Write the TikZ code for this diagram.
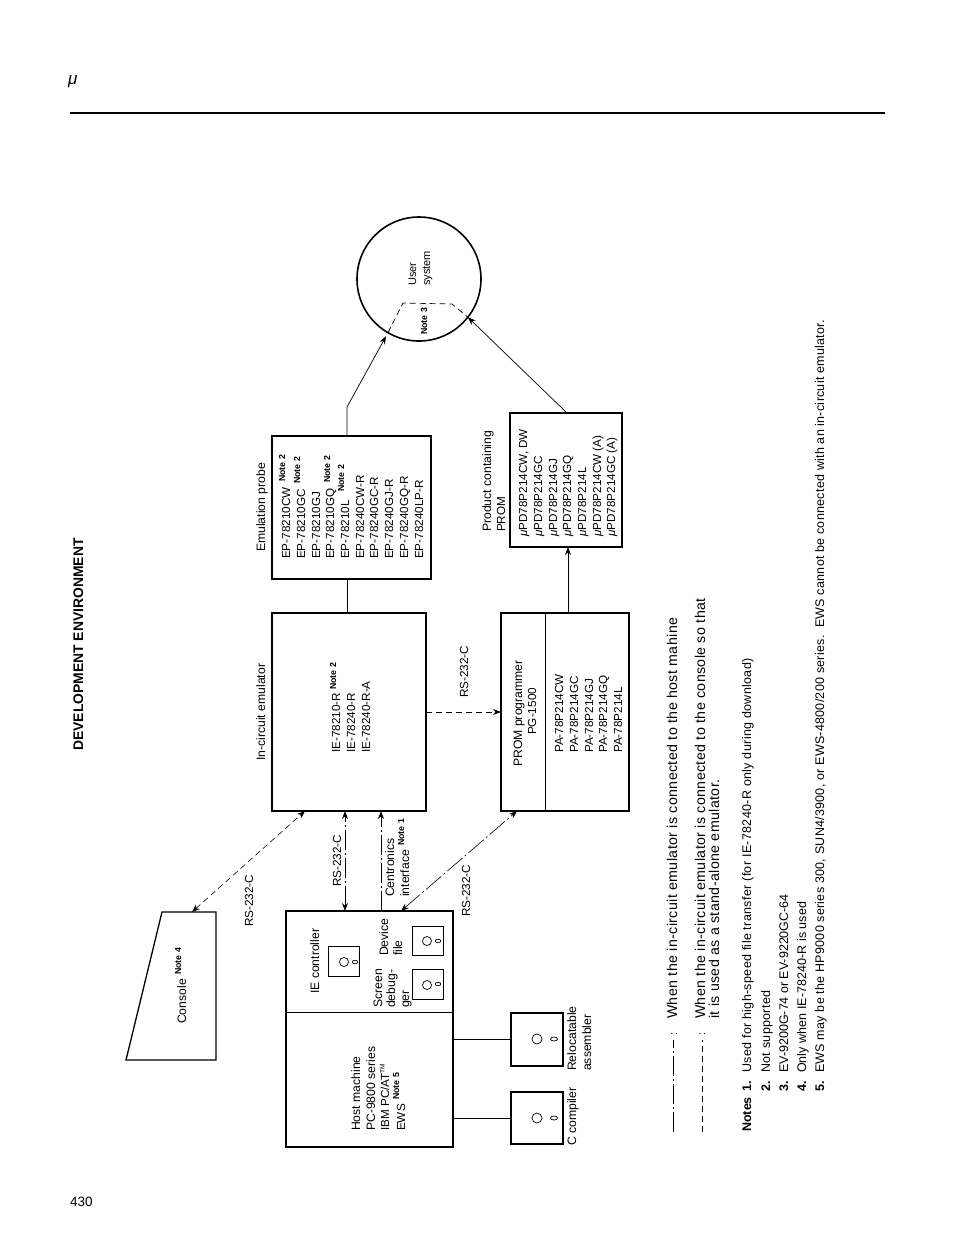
\documentclass[tikz,border=0pt]{standalone}
\usepackage{amsmath}
\usepackage{fontspec}
\setmainfont{Liberation Sans}
\usetikzlibrary{arrows.meta,shapes.geometric,positioning,calc}
\newcommand{\umu}{{\itshape μ}}

\begin{document}
\begin{tikzpicture}[x=1pt,y=-1pt,
boxed/.style={rectangle,draw,line width=1.5pt,inner sep=0pt,outer sep=0pt},
smallbox/.style={rectangle,draw,line width=1pt,inner sep=0pt,outer sep=0pt},
knob/.style={circle,draw,line width=0.7pt,inner sep=0pt,minimum size=9pt},
pin/.style={ellipse,draw,line width=0.7pt,inner sep=0pt,minimum width=5.5pt,minimum height=3.5pt},
lbl/.style={rotate=90,anchor=base west,inner sep=0pt,font=\fontsize{11.7}{14}\selectfont},
lblw/.style={rotate=90,anchor=base west,inner sep=0pt,font=\fontsize{12.2}{14}\selectfont},
note/.style={rotate=90,anchor=base west,inner sep=0pt,font=\fontsize{8.8}{10}\bfseries\selectfont},
txt/.style={rotate=90,anchor=base west,inner sep=0pt,font=\fontsize{14.2}{16}\selectfont\addfontfeature{LetterSpace=2.8}},
foot/.style={rotate=90,anchor=base west,inner sep=0pt,font=\fontsize{12.5}{14}\selectfont\addfontfeature{LetterSpace=2.8}},
footb/.style={rotate=90,anchor=base west,inner sep=0pt,font=\fontsize{12.5}{14}\bfseries\selectfont},
wire/.style={line width=0.7pt},
edge/.style={line width=0.8pt,>={Stealth[length=8pt,width=6pt]}},
dashline/.style={edge,dash pattern=on 6pt off 4pt},
chainline/.style={edge,dash pattern=on 20pt off 3pt on 2pt off 3pt}]
\useasboundingbox (0,0) rectangle (954,1235);

% page head
\node (mu) [anchor=base west,inner sep=0pt,font=\fontsize{17}{20}\selectfont] at (68,84) {\umu};
\coordinate (ruleL) at (70,113);
\coordinate (ruleR) at (885,113);
\draw [line width=1.8pt] (ruleL) -- (ruleR);
\node (title) [rotate=90,anchor=base west,inner sep=0pt,font=\fontsize{13.9}{16}\bfseries\selectfont] at (83,751) {DEVELOPMENT ENVIRONMENT};
\node (pageno) [anchor=base west,inner sep=0pt,font=\fontsize{13.5}{16}\selectfont] at (70,1206) {430};

% boxes
\node (ice) [boxed,minimum width=154pt,minimum height=198pt] at (349,712) {};
\node (probe) [boxed,minimum width=159pt,minimum height=143pt] at (351.5,507.5) {};
\node (prom) [boxed,minimum width=128pt,minimum height=198pt] at (565,712) {};
\node (product) [boxed,minimum width=112pt,minimum height=134pt] at (566,480) {};
\node (user) [circle,draw,line width=1.6pt,inner sep=0pt,outer sep=0pt,minimum size=124pt] at (419,279) {};
\node (host) [boxed,minimum width=167pt,minimum height=236pt] at (369.5,1029) {};
\node (iectl) [smallbox,minimum width=31pt,minimum height=30pt] at (343.5,961) {};
\node (devfile) [smallbox,minimum width=31pt,minimum height=29pt] at (427.5,940.5) {};
\node (screen) [smallbox,minimum width=31pt,minimum height=30pt] at (427.5,984) {};
\node (reloc) [boxed,minimum width=52pt,minimum height=53pt] at (537,1039.5) {};
\node (ccomp) [boxed,minimum width=52pt,minimum height=52pt] at (537,1118) {};

% console
\coordinate (conA) at (162,912);
\coordinate (conB) at (216,912);
\coordinate (conC) at (216,1060);
\coordinate (conD) at (126,1060);
\coordinate (conGate) at (192,912);
\draw [line width=1.3pt] (conA) -- (conB) -- (conC) -- (conD) -- cycle;

% disks
\node (iectlK) [knob] at (344,962) {};
\node (iectlP) [pin] at (355,962) {};
\node (devK) [knob] at (427,941) {};
\node (devP) [pin] at (438,941) {};
\node (scrK) [knob] at (427,985) {};
\node (scrP) [pin] at (438,984) {};
\node (relocK) [knob,minimum size=10pt] at (537,1039) {};
\node (relocP) [pin,minimum width=7pt,minimum height=4pt] at (554,1039) {};
\node (ccompK) [knob,minimum size=10pt] at (537,1118) {};
\node (ccompP) [pin,minimum width=7pt,minimum height=4pt] at (554,1118) {};

% inner dividers
\draw [wire] ([yshift=17pt]host.west) -- ([yshift=17pt]host.east);
\draw [wire] ([xshift=-20pt]prom.north) -- ([xshift=-20pt]prom.south);

% connectors
\coordinate (probeBend) at (347,407);
\coordinate (userA) at (403,303);
\coordinate (userB) at (452,304);
\draw [wire] ([xshift=-2pt]ice.north) -- ([xshift=-4.5pt]probe.south);
\draw [wire,->,>={Stealth[length=8pt,width=6pt]},shorten >=4pt] ([xshift=-4.5pt]probe.north) -- (probeBend) -- (user.240);
\draw [wire,dash pattern=on 6pt off 4pt] (user.240) -- (userA) -- (userB) -- (user.322);
\draw [wire,->,>={Stealth[length=8pt,width=6pt]}] ([xshift=1pt]product.north) -- (user.322);
\draw [edge,->] ([xshift=3pt]prom.north) -- ([xshift=2pt]product.south);
\draw [dashline,->] (ice.east) -- (prom.west);
\draw [dashline,<->,line width=0.6pt] (conGate) -- ([xshift=-44pt]ice.south);
\draw [chainline,<->] ([xshift=-24.5pt]host.north) -- ([xshift=-4pt]ice.south);
\draw [chainline,->] ([xshift=11.5pt]host.north) -- ([xshift=32pt]ice.south);
\draw [chainline,<->,line width=0.6pt] ([xshift=31.5pt]host.north) -- ([xshift=-48pt]prom.south);
\draw [wire] (reloc.west) -- (reloc.west -| host.east);
\draw [wire] (ccomp.west) -- (ccomp.west -| host.east);

% emulator and probe
\node (iceT) [lblw] at (265,761) {In-circuit emulator};
\node (iceA) [lbl] at (340,753) {IE-78210-R};
\node (iceB) [lbl] at (355,753) {IE-78240-R};
\node (iceC) [lbl] at (370,753) {IE-78240-R-A};
\node (iceN) [note] at (336,690) {Note 2};
\node (probeT) [lblw] at (265,552) {Emulation probe};
\node (epA) [lbl] at (290,559) {EP-78210CW};
\node (epB) [lbl] at (305,559) {EP-78210GC};
\node (epC) [lbl] at (320,559) {EP-78210GJ};
\node (epD) [lbl] at (334,559) {EP-78210GQ};
\node (epE) [lbl] at (349,559) {EP-78210L};
\node (epF) [lbl] at (364,559) {EP-78240CW-R};
\node (epG) [lbl] at (378,559) {EP-78240GC-R};
\node (epH) [lbl] at (393,559) {EP-78240GJ-R};
\node (epI) [lbl] at (408,559) {EP-78240GQ-R};
\node (epJ) [lbl] at (423,559) {EP-78240LP-R};
\node (epNa) [note] at (285,482) {Note 2};
\node (epNb) [note] at (300,484) {Note 2};
\node (epNc) [note] at (330,483) {Note 2};
\node (epNd) [note] at (344,492) {Note 2};

% programmer and product
\node (rsPr) [lbl] at (468,698) {RS-232-C};
\node (promA) [lblw] at (522,767) {PROM programmer};
\node (promB) [lbl] at (536,735) {PG-1500};
\node (paA) [lbl] at (563,753) {PA-78P214CW};
\node (paB) [lbl] at (578,753) {PA-78P214GC};
\node (paC) [lbl] at (593,753) {PA-78P214GJ};
\node (paD) [lbl] at (607,753) {PA-78P214GQ};
\node (paE) [lbl] at (622,753) {PA-78P214L};
\node (prodA) [lblw] at (491,532) {Product containing};
\node (prodB) [lbl] at (505,532) {PROM};
\node (upA) [lbl] at (527,537) {\umu PD78P214CW, DW};
\node (upB) [lbl] at (542,537) {\umu PD78P214GC};
\node (upC) [lbl] at (557,537) {\umu PD78P214GJ};
\node (upD) [lbl] at (571,537) {\umu PD78P214GQ};
\node (upE) [lbl] at (586,537) {\umu PD78P214L};
\node (upF) [lbl] at (601,537) {\umu PD78P214CW (A)};
\node (upG) [lbl] at (615,537) {\umu PD78P214GC (A)};

% user system
\node (userT) [lbl,font=\fontsize{11}{13}\selectfont] at (416,286) {User};
\node (userS) [lbl,font=\fontsize{11}{13}\selectfont] at (430,286) {system};
\node (userN) [note] at (427,335) {Note 3};

% host side
\node (conT) [lblw] at (186,1024) {Console};
\node (conN) [note] at (181,975) {Note 4};
\node (rsCon) [lbl] at (253,927) {RS-232-C};
\node (rsHost) [lbl] at (341,887) {RS-232-C};
\node (cenA) [lblw] at (394,897) {Centronics};
\node (cenB) [lblw] at (409,897) {interface};
\node (cenN) [note] at (404,846) {Note 1};
\node (rsPg) [lbl] at (470,917) {RS-232-C};
\node (ieT) [lblw] at (319,994) {IE controller};
\node (devA) [lblw] at (388,956) {Device};
\node (devB) [lblw] at (402,956) {file};
\node (scrA) [lblw] at (382,1008) {Screen};
\node (scrB) [lblw] at (395,1008) {debug-};
\node (scrC) [lblw] at (409,1008) {ger};
\node (hostA) [lblw] at (360,1131) {Host machine};
\node (hostB) [lblw] at (375,1131) {PC-9800 series};
\node (hostC) [lbl] at (389,1131) {IBM PC/AT\textsuperscript{\fontsize{6.5}{7}\selectfont TM}};
\node (hostD) [lbl] at (405,1131) {EWS};
\node (hostN) [note] at (399,1100) {Note 5};
\node (relocA) [lblw] at (576,1071) {Relocatable};
\node (relocB) [lblw] at (591,1071) {assembler};
\node (ccompT) [lblw] at (576,1146) {C compiler};

% legend
\coordinate (legA) at (673,1132);
\coordinate (legB) at (673,1040);
\coordinate (legC) at (702,1132);
\coordinate (legD) at (702,1040);
\draw [chainline] (legA) -- (legB);
\draw [dashline] (legC) -- (legD);
\node (legAc) [txt,font=\fontsize{11}{13}\selectfont] at (677,1036) {:};
\node (legCc) [txt,font=\fontsize{11}{13}\selectfont] at (705,1036) {:};
\node (legAt) [txt] at (677,1019) {When the in-circuit emulator is connected to the host mahine};
\node (legCt) [txt] at (705,1019) {When the in-circuit emulator is connected to the console so that};
\node (legCu) [txt] at (719,1019) {it is used as a stand-alone emulator.};

% notes
\node (notesH) [footb] at (751,1132) {Notes};
\node (noA) [footb] at (751,1092) {1.};
\node (noB) [footb] at (770,1092) {2.};
\node (noC) [footb] at (788,1092) {3.};
\node (noD) [footb] at (806,1092) {4.};
\node (noE) [footb] at (824,1092) {5.};
\node (ftA) [foot] at (751,1073) {Used for high-speed file transfer (for IE-78240-R only during download)};
\node (ftB) [foot] at (770,1073) {Not supported};
\node (ftC) [foot,font=\fontsize{12.5}{14}\selectfont] at (788,1073) {EV-9200G-74 or EV-9220GC-64};
\node (ftD) [foot,font=\fontsize{12.5}{14}\selectfont\addfontfeature{LetterSpace=0.5}] at (806,1073) {Only when IE-78240-R is used};
\node (ftE) [foot,font=\fontsize{12.5}{14}\selectfont\addfontfeature{LetterSpace=2.2}] at (824,1073) {EWS may be the HP9000 series 300, SUN4/3900, or EWS-4800/200 series.\ \ EWS cannot be connected with an in-circuit emulator.};
\end{tikzpicture}
\end{document}
